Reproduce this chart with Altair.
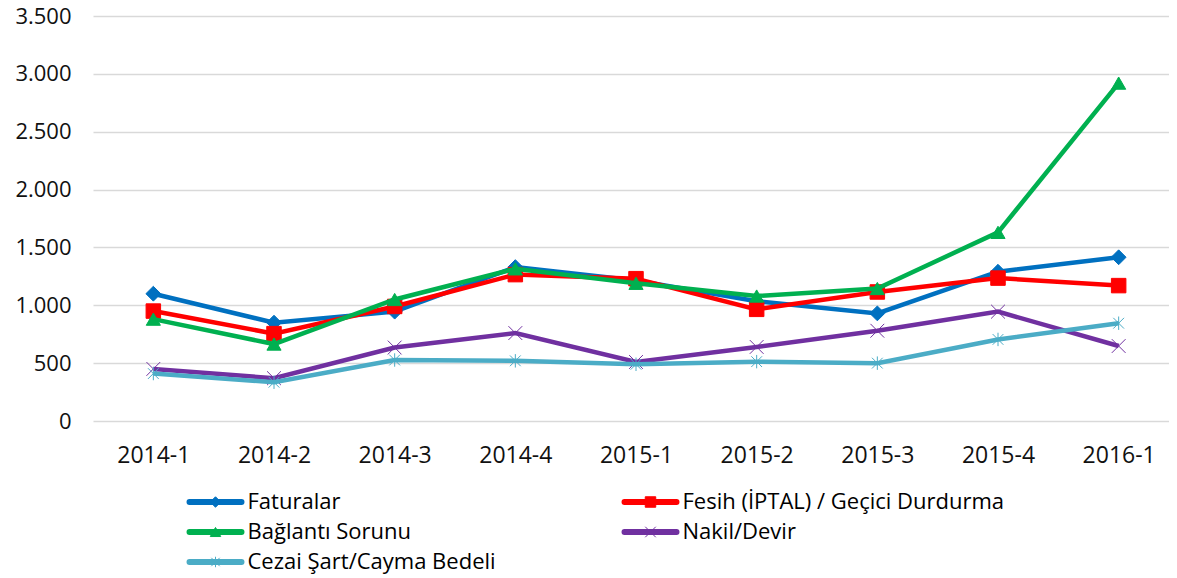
import altair as alt
import pandas as pd

periods = ["2014-1", "2014-2", "2014-3", "2014-4", "2015-1", "2015-2", "2015-3", "2015-4", "2016-1"]
series = ["Faturalar", "Fesih (İPTAL) / Geçici Durdurma", "Bağlantı Sorunu", "Nakil/Devir", "Cezai Şart/Cayma Bedeli"]
faturalar = [1100, 850, 945, 1330, 1215, 1035, 930, 1290, 1415]
fesih = [950, 755, 990, 1265, 1230, 965, 1115, 1235, 1170]
baglanti = [880, 665, 1050, 1315, 1190, 1080, 1145, 1630, 2920]
nakil = [450, 370, 635, 760, 510, 640, 780, 945, 648]
cezai = [410, 335, 527, 520, 490, 513, 500, 705, 845]
y_ticks = [0, 500, 1000, 1500, 2000, 2500, 3000, 3500]

colors = ["#0070C0", "#FF0000", "#00B050", "#7030A0", "#4BACC6"]
X_PATH = "M-1,-1L1,1M-1,1L1,-1"
AST_PATH = "M0,-1L0,1M-0.8,-0.8L0.8,0.8M-0.8,0.8L0.8,-0.8"
shapes = ["diamond", "square", "triangle-up", X_PATH, AST_PATH]
marker_sizes = [220, 180, 230, 200, 230]
marker_strokes = [1, 1, 1, 2.5, 2.5]

# legend grid (column/row index of each entry)
leg_col = [0, 1, 0, 1, 0]
leg_row = [0, 0, 1, 1, 2]

values = [faturalar, fesih, baglanti, nakil, cezai]
rows = []
for s, vals in zip(series, values):
    for p, v in zip(periods, vals):
        rows.append({"series": s, "period": p, "value": v})
df = pd.DataFrame(rows)
leg_df = pd.DataFrame({"series": series, "col": leg_col, "row": leg_row})

FONT = "Open Sans"
color_scale = alt.Scale(domain=series, range=colors)
shape_scale = alt.Scale(domain=series, range=shapes)
size_scale = alt.Scale(domain=series, range=marker_sizes)
sw_scale = alt.Scale(domain=series, range=marker_strokes)

x_enc = alt.X(
    "period:O", sort=periods, title=None,
    scale=alt.Scale(domain=periods, range=[0, 1086], padding=0.5),
    axis=alt.Axis(labelAngle=0, labelFont=FONT, labelFontSize=23, labelColor="#111",
                  ticks=False, tickSize=0, domain=False, grid=False, labelPadding=23),
)
y_enc = alt.Y(
    "value:Q", title=None,
    scale=alt.Scale(domain=[0, 3500], nice=False),
    axis=alt.Axis(values=y_ticks, labelFont=FONT, labelFontSize=22, labelColor="#111",
                  ticks=False, tickSize=0, domain=False, grid=True, gridColor="#D9D9D9",
                  gridWidth=1.5, labelPadding=22,
                  labelExpr="replace(format(datum.value, ','), ',', '.')"),
)

base = alt.Chart(df)
main_layers = []
for s in series:
    b = base.transform_filter(alt.datum.series == s)
    line = b.mark_line(strokeWidth=4.5).encode(
        x=x_enc, y=y_enc,
        color=alt.Color("series:N", scale=color_scale, legend=None),
    )
    pts = b.mark_point(filled=True, opacity=1).encode(
        x=x_enc, y=y_enc,
        color=alt.Color("series:N", scale=color_scale, legend=None),
        stroke=alt.Stroke("series:N", scale=color_scale, legend=None),
        shape=alt.Shape("series:N", scale=shape_scale, legend=None),
        size=alt.Size("series:N", scale=size_scale, legend=None),
        strokeWidth=alt.StrokeWidth("series:N", scale=sw_scale, legend=None),
    )
    main_layers += [line, pts]
main = alt.layer(*main_layers)

lb = alt.Chart(leg_df)
lx = alt.X("col:Q", scale=alt.Scale(domain=[0, 1], range=[122.5, 557.5]), axis=None)
ly = alt.Y("row:Q", scale=alt.Scale(domain=[0, 2], range=[486, 546]), axis=None)
leg_line = lb.mark_point(shape="M-1,0L1,0", size=2700, strokeWidth=6, strokeCap="round",
                         filled=False, opacity=1).encode(
    x=lx, y=ly, color=alt.Color("series:N", scale=color_scale, legend=None),
)
leg_mark = lb.mark_point(filled=True, opacity=1, size=110).encode(
    x=lx, y=ly,
    color=alt.Color("series:N", scale=color_scale, legend=None),
    stroke=alt.Stroke("series:N", scale=color_scale, legend=None),
    shape=alt.Shape("series:N", scale=shape_scale, legend=None),
    strokeWidth=alt.StrokeWidth("series:N", scale=sw_scale, legend=None),
)
leg_text = lb.mark_text(align="left", baseline="middle", dx=32, font=FONT, fontSize=22, color="#000").encode(
    x=lx, y=ly, text="series:N",
)
legend = alt.layer(leg_line, leg_mark, leg_text)

chart = alt.layer(main, legend).resolve_scale(x="independent", y="independent").properties(
    width=1076, height=405,
    autosize=alt.AutoSizeParams(type="none"),
    padding={"left": 85, "top": 8, "right": 0, "bottom": 154},
).configure_view(stroke=None)

chart.save("out.html", embed_options={"renderer": "svg", "actions": False})
